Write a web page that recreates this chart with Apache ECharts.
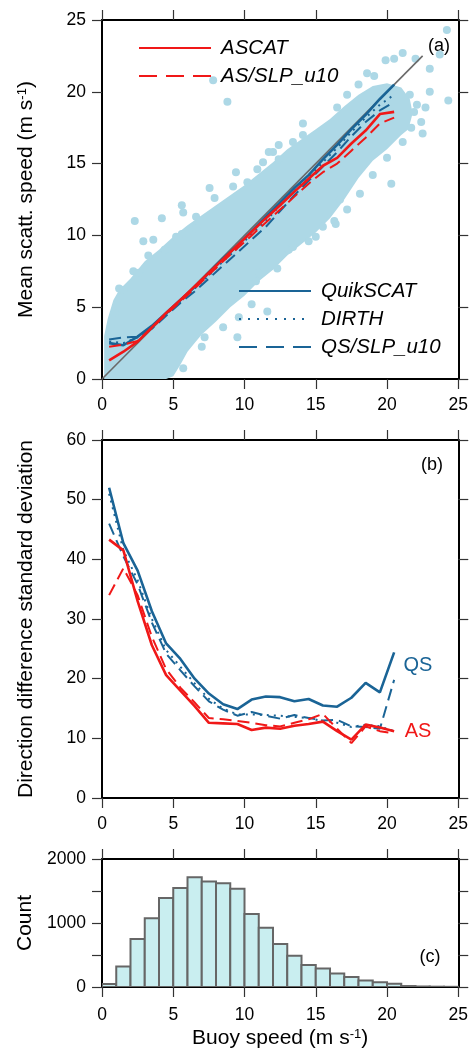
<!DOCTYPE html>
<html><head><meta charset="utf-8">
<script src="https://cdn.jsdelivr.net/npm/echarts@6/dist/echarts.min.js"></script>
<style>html,body{margin:0;padding:0;background:#fff}#c{width:471px;height:1057px}</style>
</head><body><div id="c"></div>
<script>
// ---------- DATA ----------
const binCenters = [0.5,1.5,2.5,3.5,4.5,5.5,6.5,7.5,8.5,9.5,10.5,11.5,12.5,13.5,14.5,15.5,16.5,17.5,18.5,19.5,20.5];

// panel (a): mean scatterometer speed per buoy-speed bin
const ascatSpeed    = [1.3,1.9,2.6,3.6,4.6,5.5,6.45,7.4,8.35,9.3,10.25,11.2,12.1,13.05,13.95,14.85,15.4,16.4,17.3,18.45,18.6];
const asSlpSpeed    = [2.25,2.4,2.65,3.55,4.5,5.4,6.3,7.25,8.2,9.1,10.0,10.9,11.8,12.7,13.6,14.4,15.0,15.9,16.8,17.8,18.2];
const quikscatSpeed = [2.5,2.35,2.95,3.7,4.6,5.5,6.4,7.4,8.4,9.3,10.3,11.3,12.3,13.3,14.2,15.3,16.3,17.4,18.4,19.5,20.5];
const dirthSpeed    = [2.6,2.5,2.9,3.6,4.5,5.4,6.3,7.2,8.2,9.1,10.1,11.0,12.1,13.1,14.0,15.1,16.1,17.2,18.2,19.1,19.8];
const qsSlpSpeed    = [2.75,2.9,2.95,3.5,4.4,5.3,6.1,7.0,7.9,8.8,9.7,10.6,11.7,12.8,13.8,14.8,15.8,16.9,17.9,18.7,19.3];
const oneToOne = [[0,0],[22.5,22.5]];

// dense part of the scatter cloud (outline)
const cloudOutline = [
  [0.15,0],[0.15,3.0],[0.4,4.2],[0.8,5.5],[1.2,6.2],[2,7.0],[3,8.2],[4,9.0],[5,9.9],[6,10.7],[7,11.4],
  [8,12.1],[9,12.8],[10,13.5],[11,14.3],[12,15.1],[13,16.0],[14,16.7],[15,17.4],[16,18.1],[17,19.0],
  [18,19.8],[19,20.4],[20,20.6],[21,20.3],[21.6,19.5],[21.8,18.5],[21.5,17.4],[21,17.0],[20,16.0],
  [19,15.2],[18,14.0],[17,12.5],[16,11.2],[15,10.2],[14,9.4],[13,8.6],[12,7.6],[11,6.8],[10,5.8],
  [9,5.0],[8,4.0],[7,3.1],[6.5,2.5],[6,1.9],[5.5,1.0],[5,0.2],[4.5,0]
];
// individual points around the cloud edges and outliers
const scatterPoints = [
  [0.6,3.6],[0.9,4.6],[1.2,6.3],[1.5,6.2],[2.2,7.5],[2.6,7.4],[2.3,11.0],[2.9,9.6],[3.6,9.7],[3.25,8.6],
  [4.4,9.0],[4.2,11.2],[5.6,12.1],[5.7,11.6],[6.6,10.5],[6.6,11.3],[5.2,9.9],[5.6,10.1],[7.8,20.8],[8.8,19.3],
  [7.55,13.3],[7.9,12.6],[9.2,13.4],[9.4,14.4],[10.2,13.7],[10.9,14.6],[11.3,15.1],[11.7,15.8],[12.0,15.8],
  [12.4,16.3],[12.4,15.3],[13.4,16.5],[14.1,17.8],[14.1,17.0],[16.5,18.9],[17.2,19.8],[18.0,20.5],[18.6,21.3],
  [19.1,21.1],[19.9,22.2],[20.5,22.3],[21.1,22.7],[22.0,22.3],[23.0,21.6],[23.7,22.6],[24.2,24.3],[24.3,19.4],
  [23.0,20.0],[22.7,18.9],[22.1,19.1],[21.6,19.8],[22.4,17.9],[22.5,17.1],[20.3,13.6],
  [16.3,11.0],[15.5,10.6],[16.7,12.5],[13.1,9.0],[13.4,9.2],[12.3,7.7],[11.0,7.4],[10.8,6.8],[11.6,4.7],
  [9.5,2.9],[7.0,2.25],[7.2,2.9],[5.7,0.75],[16.4,10.8],[17.2,11.8],[18.1,12.9],[19.0,14.2],[20.0,15.4],
  [21.1,16.5],[21.7,17.5],[21.9,18.6],[8.5,3.6],[9.6,4.3],[10.5,5.2],[14.5,9.6],[15.0,9.9]
];

// panel (b): direction difference standard deviation per bin
const quikscatDir = [52.0,42.7,38.1,31.3,25.9,23.3,20.0,17.5,15.7,14.9,16.5,17.0,16.9,16.2,16.6,15.5,15.3,16.8,19.3,17.7,24.4];
const dirthDir    = [51.0,41.5,36.5,30.0,24.8,22.0,19.2,16.6,15.0,14.0,14.0,13.9,13.8,13.6,13.4,12.9,12.6,11.9,12.3,12.0,11.2];
const qsSlpDir    = [46.0,40.5,35.8,29.4,24.2,21.4,18.7,16.2,14.8,13.8,14.4,13.8,13.3,13.9,13.4,13.0,13.1,12.0,11.9,11.6,19.8];
const ascatDir    = [43.3,41.5,33.0,25.6,20.6,18.0,15.4,12.6,12.5,12.4,11.4,11.8,11.6,12.1,12.4,12.8,11.2,9.8,12.3,11.8,11.2];
const asSlpDir    = [34.0,38.5,34.0,27.0,21.6,18.5,16.0,13.4,13.2,12.9,12.6,12.2,12.0,12.6,13.2,14.1,11.6,9.2,12.0,11.2,10.8];

// panel (c): histogram of buoy speed
const histEdges  = [0,1,2,3,4,5,6,7,8,9,10,11,12,13,14,15,16,17,18,19,20,21,22,23,24,25];
const histCounts = [45,320,750,1075,1390,1545,1715,1650,1620,1535,1140,925,670,490,345,290,210,155,100,75,50,15,8,5,3];

// ---------- STYLE ----------
const FONT = 'Liberation Sans, Arial, sans-serif';
const RED = '#f01818';
const BLUE = '#1a6496';
const DOT = 'lightblue';

const pairs = (xs, ys) => xs.map((x, i) => [x, ys[i]]);

function axisBase(extra) {
  return Object.assign({
    type: 'value',
    axisLine: {show: true, onZero: false, lineStyle: {color: '#000', width: 2}},
    axisTick: {show: true, inside: false, length: 10, lineStyle: {color: '#333', width: 1.2}},
    splitLine: {show: false},
    axisLabel: {color: '#000', fontFamily: FONT, fontSize: 17.5, margin: 16},
  }, extra);
}
const nameStyle = {
  color: '#000', fontFamily: FONT, fontSize: 21,
  rich: {sup: {fontSize: 13, fontFamily: FONT, color: '#000', verticalAlign: 'top'}}
};

const xAxes = [];
const yAxes = [];
[0, 1, 2].forEach(g => {
  xAxes.push(axisBase({gridIndex: g, position: 'bottom', min: 0, max: 25, interval: 5}));
  xAxes.push(axisBase({gridIndex: g, position: 'top', min: 0, max: 25, interval: 5, axisLabel: {show: false}}));
});
xAxes[0].axisLabel.margin = 17;
xAxes[2].axisLabel.margin = 17;
xAxes[4].axisLabel.margin = 19;
xAxes[4].name = 'Buoy speed (m s{sup|-1})';
xAxes[4].nameLocation = 'middle';
xAxes[4].nameGap = 41;
xAxes[4].nameTextStyle = Object.assign({}, nameStyle, {fontSize: 21});

const yCfg = [
  {min: 0, max: 25, interval: 5, name: 'Mean scatt. speed (m s{sup|-1})'},
  {min: 0, max: 60, interval: 10, name: 'Direction difference standard deviation'},
  {min: 0, max: 2000, interval: 500, name: 'Count'}
];
yCfg.forEach((c, g) => {
  const left = axisBase({gridIndex: g, position: 'left', min: c.min, max: c.max, interval: c.interval,
    name: c.name, nameLocation: 'middle', nameGap: 65, nameTextStyle: nameStyle});
  if (g === 2) left.axisLabel.formatter = v => (v % 1000 === 0 ? String(v) : '');
  yAxes.push(left);
  yAxes.push(axisBase({gridIndex: g, position: 'right', min: c.min, max: c.max, interval: c.interval, axisLabel: {show: false}}));
});

function lineSeries(name, data, color, type, width, xi, yi, z) {
  return {
    name, type: 'line', data, xAxisIndex: xi, yAxisIndex: yi, symbol: 'none', z: z || 3,
    lineStyle: {color, width, type}, itemStyle: {color}, emphasis: {disabled: true}
  };
}
const DASH = [12, 6];
const DOTTED = [2, 5];

const series = [
  // panel (a)
  {
    type: 'custom', name: 'cloud', xAxisIndex: 0, yAxisIndex: 0, clip: true, z: 1,
    data: cloudOutline,
    renderItem: (params, api) => {
      if (params.dataIndex !== 0) return null;
      const pts = cloudOutline.map(p => api.coord(p));
      return {type: 'polygon', shape: {points: pts}, style: {fill: DOT}};
    }
  },
  {type: 'scatter', name: 'points', xAxisIndex: 0, yAxisIndex: 0, data: scatterPoints, symbolSize: 8,
   itemStyle: {color: DOT, opacity: 1}, z: 1, clip: true},
  lineSeries('1:1', oneToOne, '#6a6a6a', 'solid', 1.6, 0, 0, 2),
  lineSeries('QuikSCAT', pairs(binCenters, quikscatSpeed), BLUE, 'solid', 2.6, 0, 0),
  lineSeries('DIRTH', pairs(binCenters, dirthSpeed), BLUE, DOTTED, 2, 0, 0),
  lineSeries('QS/SLP_u10', pairs(binCenters, qsSlpSpeed), BLUE, DASH, 2, 0, 0),
  lineSeries('AS/SLP_u10', pairs(binCenters, asSlpSpeed), RED, DASH, 2, 0, 0),
  lineSeries('ASCAT', pairs(binCenters, ascatSpeed), RED, 'solid', 2.6, 0, 0),
  // panel (b)
  lineSeries('QuikSCAT dir', pairs(binCenters, quikscatDir), BLUE, 'solid', 2.6, 2, 2),
  lineSeries('DIRTH dir', pairs(binCenters, dirthDir), BLUE, DOTTED, 2, 2, 2),
  lineSeries('QS/SLP_u10 dir', pairs(binCenters, qsSlpDir), BLUE, DASH, 2, 2, 2),
  lineSeries('AS/SLP_u10 dir', pairs(binCenters, asSlpDir), RED, DASH, 2, 2, 2),
  lineSeries('ASCAT dir', pairs(binCenters, ascatDir), RED, 'solid', 2.6, 2, 2),
  // panel (c)
  {
    type: 'custom', name: 'hist', xAxisIndex: 4, yAxisIndex: 4, clip: true,
    data: histCounts.map((c, i) => [histEdges[i], histEdges[i + 1], c]),
    encode: {x: [0, 1], y: 2},
    renderItem: (params, api) => {
      const p0 = api.coord([api.value(0), api.value(2)]);
      const p1 = api.coord([api.value(1), 0]);
      return {type: 'rect', shape: {x: p0[0], y: p0[1], width: p1[0] - p0[0], height: p1[1] - p0[1]},
              style: {fill: '#c9eef0', stroke: '#666', lineWidth: 2}};
    }
  }
];

const legendText = {fontSize: 20.5, fontStyle: 'italic', fontFamily: FONT, color: '#000', padding: [0, 0, 0, 5]};
const legendCommon = {orient: 'vertical', padding: 0, itemWidth: 72, itemHeight: 18, itemGap: 8, selectedMode: false,
  textStyle: legendText, itemStyle: {opacity: 0}};
const legDash = {type: [18, 9]};
const legDot = {type: [2, 7]};

const option = {
  animation: false,
  backgroundColor: '#fff',
  grid: [
    {left: 102, top: 20, width: 358, height: 359},
    {left: 102, top: 440, width: 358, height: 358},
    {left: 102, top: 859, width: 358, height: 128}
  ],
  xAxis: xAxes,
  yAxis: yAxes,
  legend: [
    Object.assign({}, legendCommon, {left: 138, top: 38,
      data: [{name: 'ASCAT'}, {name: 'AS/SLP_u10', lineStyle: legDash}]}),
    Object.assign({}, legendCommon, {left: 238, top: 281,
      data: [{name: 'QuikSCAT'}, {name: 'DIRTH', lineStyle: legDot}, {name: 'QS/SLP_u10', lineStyle: legDash}]})
  ],
  graphic: [
    {type: 'text', x: 439, y: 46, style: {text: '(a)', fontSize: 18, fontFamily: FONT, fill: '#000', align: 'center', verticalAlign: 'middle'}},
    {type: 'text', x: 432, y: 465, style: {text: '(b)', fontSize: 18, fontFamily: FONT, fill: '#000', align: 'center', verticalAlign: 'middle'}},
    {type: 'text', x: 430, y: 957, style: {text: '(c)', fontSize: 18, fontFamily: FONT, fill: '#000', align: 'center', verticalAlign: 'middle'}},
    {type: 'text', x: 418, y: 665, style: {text: 'QS', fontSize: 20, fontFamily: FONT, fill: BLUE, align: 'center', verticalAlign: 'middle'}},
    {type: 'text', x: 418, y: 731, style: {text: 'AS', fontSize: 20, fontFamily: FONT, fill: RED, align: 'center', verticalAlign: 'middle'}}
  ],
  series
};

const chart = echarts.init(document.getElementById('c'), null, {renderer: 'canvas'});
chart.setOption(option);
</script>
</body></html>
